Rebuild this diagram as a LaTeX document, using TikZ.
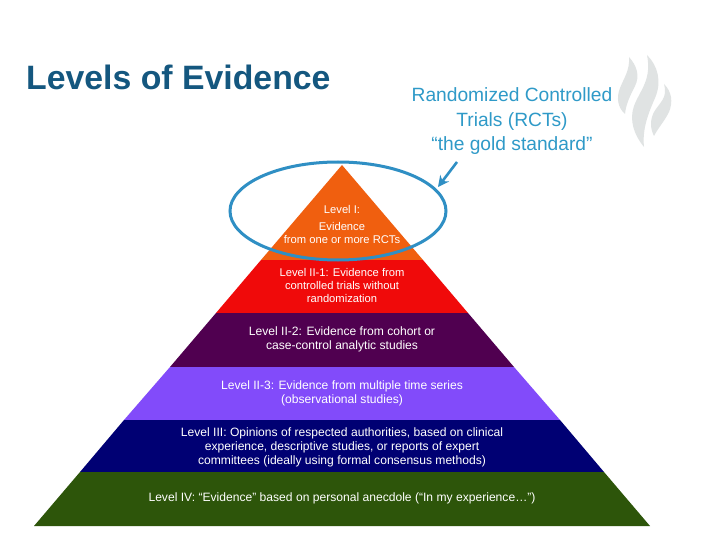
\documentclass[tikz,border=0pt]{standalone}
\usepackage{fontspec}
\setmainfont{Liberation Sans}
\usetikzlibrary{arrows.meta,shapes.geometric}
\definecolor{titleblue}{HTML}{14577F}
\definecolor{calloutblue}{HTML}{2F9AC8}
\definecolor{ringblue}{HTML}{2F8FC4}
\definecolor{flamegrey}{HTML}{E0E3E3}
\tikzstyle{every node}=[align=center, inner sep=0pt]
\tikzstyle{band}=[draw=none]
\tikzstyle{level}=[text=white, font={\fontsize{12.1}{14}\selectfont}]
\tikzstyle{toplevel}=[level, font={\fontsize{11.2}{13}\selectfont}]
\tikzstyle{callout}=[text=calloutblue, font={\fontsize{19.2}{24.5}\selectfont}]
\tikzstyle{flame}=[fill=flamegrey, draw=none]

\begin{document}
\begin{tikzpicture}[x=1pt, y=-1pt]
    \useasboundingbox [fill=white] (0,0) rectangle (720,540);

    \node [anchor=west, text=titleblue, font={\fontsize{33.8}{36}\selectfont\bfseries}] (title) at (26,77) {Levels of Evidence};

    % logo
    \fill [flame] (629,57) .. controls (637,66) and (640,76) .. (635,86) .. controls (630,96) and (626,104) .. (625,114) .. controls (618,108) and (616,98) .. (620,88) .. controls (624,78) and (630,70) .. (629,57) -- cycle;
    \fill [flame] (647,55) .. controls (658,66) and (662,82) .. (655,98) .. controls (649,112) and (642,128) .. (644,147) .. controls (634,135) and (629,120) .. (634,106) .. controls (640,90) and (652,80) .. (647,55) -- cycle;
    \fill [flame] (664,84) .. controls (672,92) and (673,102) .. (669,112) .. controls (664,122) and (658,128) .. (654,136) .. controls (650,128) and (650,120) .. (654,112) .. controls (660,102) and (668,98) .. (664,84) -- cycle;

    % pyramid
    \fill [band, fill={rgb,255:red,240;green,95;blue,15}] (342,165) -- (423,260) -- (261,260) -- cycle;
    \fill [band, fill={rgb,255:red,240;green,10;blue,10}] (261,260) -- (423,260) -- (468,313) -- (216,313) -- cycle;
    \fill [band, fill={rgb,255:red,80;green,0;blue,80}] (216,313) -- (468,313) -- (514,367) -- (170,367) -- cycle;
    \fill [band, fill={rgb,255:red,130;green,75;blue,250}] (170,367) -- (514,367) -- (560,420) -- (124,420) -- cycle;
    \fill [band, fill={rgb,255:red,0;green,0;blue,115}] (124,420) -- (560,420) -- (604,472) -- (80,472) -- cycle;
    \fill [band, fill={rgb,255:red,45;green,85;blue,10}] (80,472) -- (604,472) -- (650,526) -- (34,526) -- cycle;

    \node [toplevel] (levelone) at (342,224) {Level I:\\[4pt]Evidence\\from one or more RCTs};
    \node [toplevel] (leveltwoa) at (342,285) {Level II-1: Evidence from\\controlled trials without\\randomization};
    \node [level] (leveltwob) at (342,339.5) {Level II-2: Evidence from cohort or\\case-control analytic studies};
    \node [level] (leveltwoc) at (342,393.5) {Level II-3: Evidence from multiple time series\\(observational studies)};
    \node [level] (levelthree) at (342,447) {Level III: Opinions of respected authorities, based on clinical\\experience, descriptive studies, or reports of expert\\committees (ideally using formal consensus methods)};
    \node [level] (levelfour) at (342,498.5) {Level IV: “Evidence” based on personal anecdole (“In my experience…”)};

    % callout
    \node [callout] (gold) at (512,121.5) {Randomized Controlled\\Trials (RCTs)\\“the gold standard”};
    \node [draw=ringblue, line width=3pt, ellipse, minimum width=216pt, minimum height=98pt] (ring) at (338,211) {};
    \coordinate (tail) at (457,162);
    \coordinate (tip) at (438,187);
    \draw [-{Stealth[length=11pt,width=11pt]}, draw=ringblue, line width=2.6pt] (tail) -- (tip);
\end{tikzpicture}
\end{document}
